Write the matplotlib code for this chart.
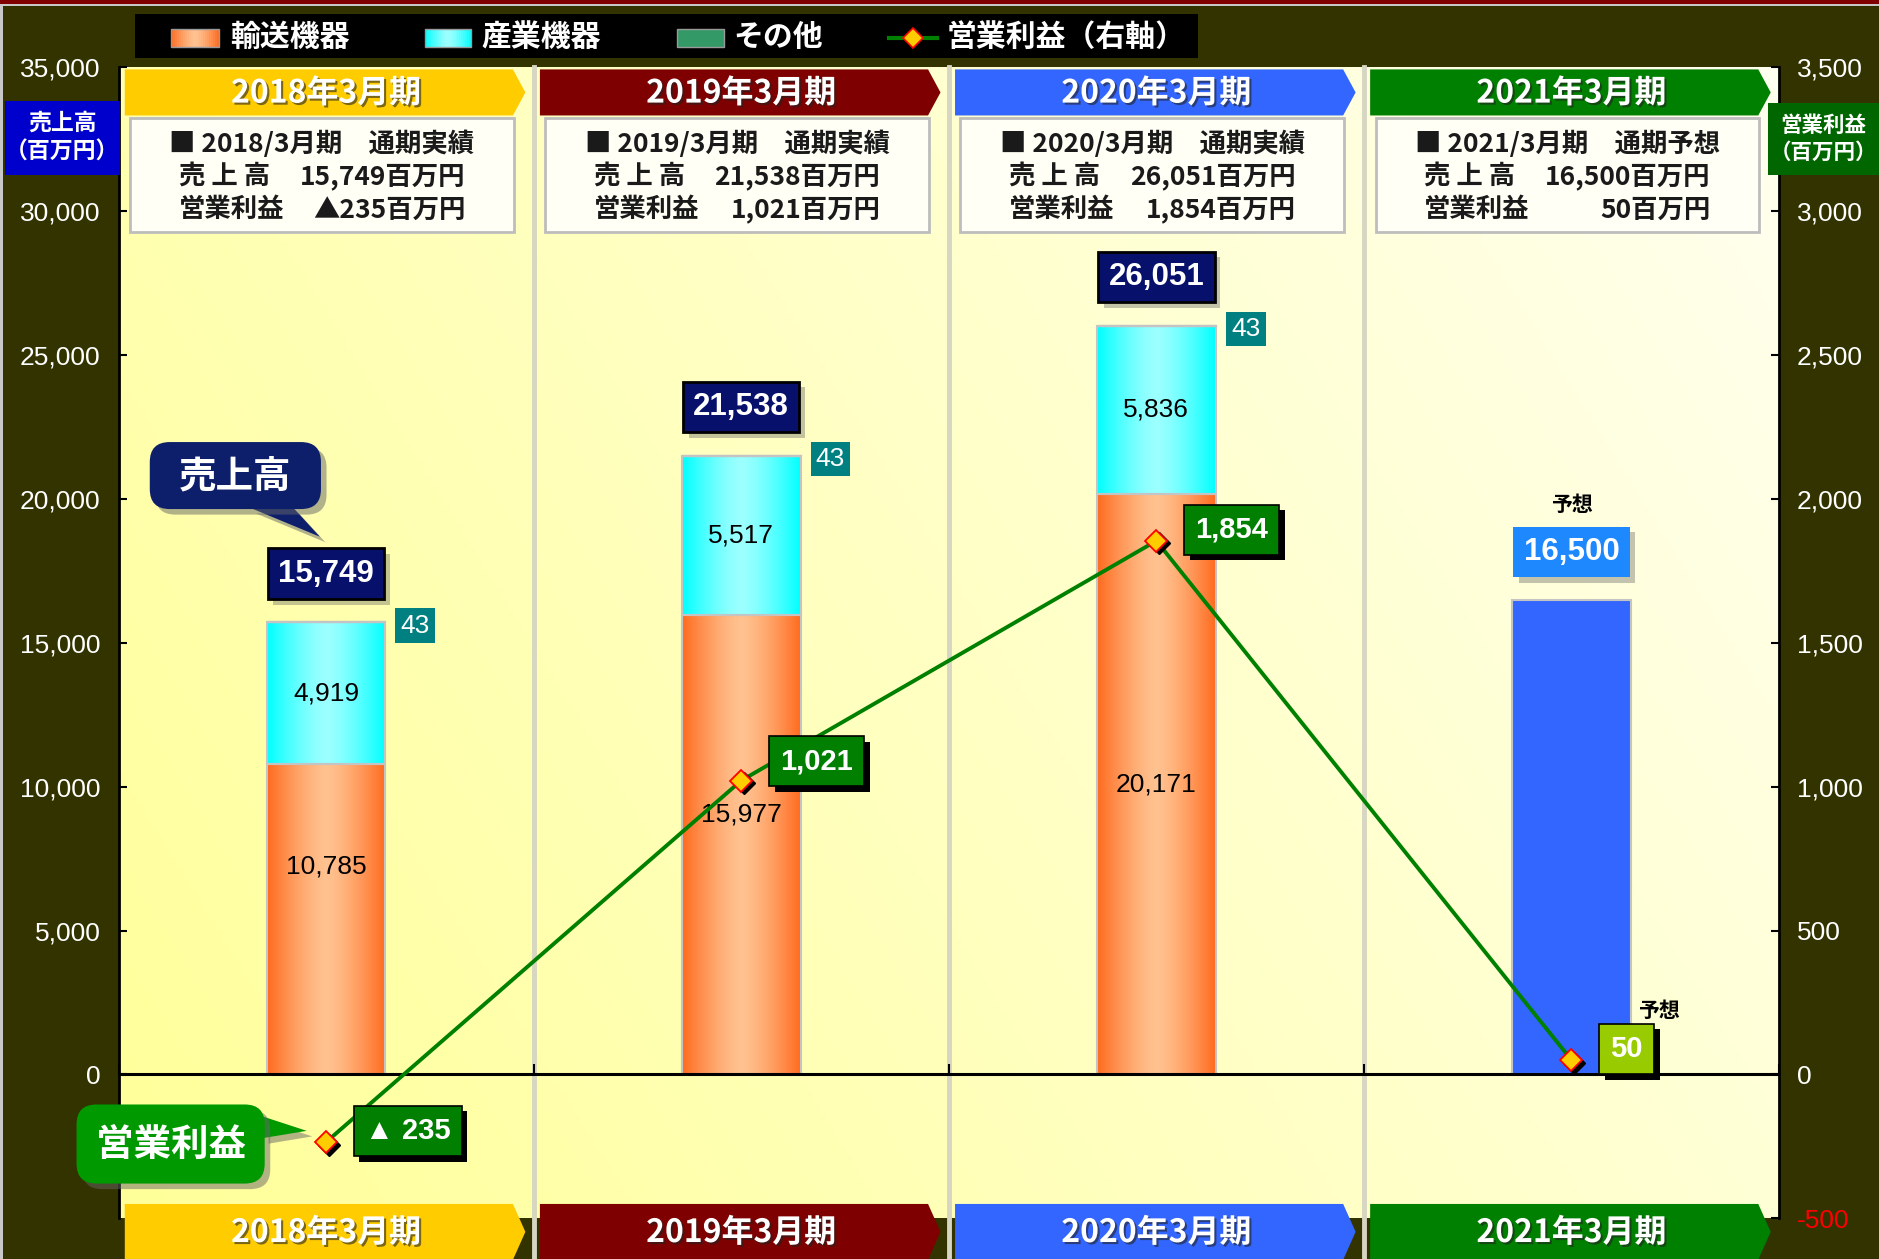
# 売上高・営業利益の推移（4期）
import numpy as np
import matplotlib
matplotlib.use('Agg')
import matplotlib.pyplot as plt
import matplotlib.patheffects as pe
from matplotlib import transforms
from matplotlib.colors import to_rgb
from matplotlib.lines import Line2D
from matplotlib.patches import Rectangle, Polygon, FancyBboxPatch

plt.rcParams['font.family'] = ['Liberation Sans', 'Noto Sans CJK JP', 'DejaVu Sans']
JP = ['Noto Sans CJK JP', 'DejaVu Sans']

# ---- data (百万円) ----
periods = ['2018年3月期', '2019年3月期', '2020年3月期', '2021年3月期']
period_short = ['2018/3月期', '2019/3月期', '2020/3月期', '2021/3月期']
kinds = ['通期実績', '通期実績', '通期実績', '通期予想']
transport = [10785, 15977, 20171]      # 輸送機器
industrial = [4919, 5517, 5836]        # 産業機器
others = [43, 43, 43]                  # その他
sales_total = [15749, 21538, 26051, 16500]
op_profit = [-235, 1021, 1854, 50]     # 営業利益（右軸）

# ---- style ----
banner_colors = ['#FFCC00', '#7F0000', '#3366FF', '#008000']
ORANGE_EDGE, ORANGE_MID = to_rgb('#FF6A1E'), to_rgb('#FFC290')
CYAN_EDGE, CYAN_MID = to_rgb('#00FFFF'), to_rgb('#9CFFFF')
transport_label_y = [7240, 9030, 10090]
profit_label_dy = [8, 14, 8, 8]
shadow_txt = [pe.SimplePatchShadow(offset=(1.5, -1.5), shadow_rgbFace='#222222', alpha=0.6), pe.Normal()]

fig = plt.figure(figsize=(18.79, 12.59), dpi=100, facecolor='#333300')
ax = fig.add_axes([0.0631, 0.0323, 0.8837, 0.9144])
ax2 = ax.twinx()
blend = transforms.blended_transform_factory(ax.transData, ax.transAxes)

x = np.arange(len(periods))
W = 0.286

# plot area background
gx, gy = np.meshgrid(np.linspace(0, 1, 256), np.linspace(0, 1, 256))
t = np.clip(0.7 * gx + 0.3 * gy, 0, 1)
lo, hi = np.array([1.0, 1.0, 0.60]), np.array([1.0, 1.0, 0.94])
ax.imshow(lo + (hi - lo) * t[..., None], extent=[0, 1, 0, 1], transform=ax.transAxes,
          origin='lower', aspect='auto', zorder=0)

for b in x[:-1] + 0.5:
    ax.add_line(Line2D([b, b], [-0.04, 1], transform=blend, color='#D6D6C2', lw=3.5,
                       zorder=1, clip_on=False))


def shade(patch, edge, mid):
    bb = patch.get_bbox()
    tt = np.abs(np.linspace(-1, 1, 120)) ** 1.4
    row = np.array(mid) + (np.array(edge) - np.array(mid)) * tt[:, None]
    im = ax.imshow(row[None], extent=[bb.x0, bb.x1, bb.y0, bb.y1], aspect='auto',
                   zorder=2.9, interpolation='bilinear')
    im.set_clip_path(patch)


b1 = ax.bar(x[:3], transport, W, color='none', edgecolor='#C4C4C4', lw=1.5, zorder=3)
b2 = ax.bar(x[:3], industrial, W, bottom=transport, color='none', edgecolor='#C4C4C4', lw=1.5, zorder=3)
ax.bar(x[:3], others, W, bottom=np.add(transport, industrial), color='#339966',
       edgecolor='#C4C4C4', lw=1.0, zorder=3)
ax.bar(x[3], sales_total[3], W, color='#3366FF', edgecolor='#C4C4C4', lw=1.5, zorder=3)
for p in b1:
    shade(p, ORANGE_EDGE, ORANGE_MID)
for p in b2:
    shade(p, CYAN_EDGE, CYAN_MID)

# segment labels
for i in range(3):
    ax.text(x[i], transport_label_y[i], f'{transport[i]:,}', ha='center', va='center',
            fontsize=19, color='black', zorder=4)
    ax.text(x[i], transport[i] + industrial[i] / 2, f'{industrial[i]:,}', ha='center',
            va='center', fontsize=19, color='black', zorder=4)
    top = transport[i] + industrial[i] + others[i]
    ax.text(x[i] + 0.215, top - 150, f'{others[i]}', ha='center', va='center', fontsize=19,
            color='white', zorder=5,
            bbox=dict(boxstyle='square,pad=0.2', fc='#008080', ec='none'))

# total labels
for i, v in enumerate(sales_total):
    fc = '#1E88FF' if kinds[i] == '通期予想' else '#07106A'
    ec = 'none' if kinds[i] == '通期予想' else 'black'
    tx = ax.text(x[i], v + 1650, f'{v:,}', ha='center', va='center', fontsize=22.5,
                 weight='bold', color='white', zorder=6,
                 bbox=dict(boxstyle='square,pad=0.33', fc=fc, ec=ec, lw=2))
    tx.get_bbox_patch().set_path_effects(
        [pe.SimplePatchShadow(offset=(4, -4), shadow_rgbFace='#555555', alpha=0.35), pe.Normal()])
ax.text(x[3], sales_total[3] + 3300, '予想', ha='center', va='center', fontsize=15,
        weight='bold', color='black', family=JP, zorder=6)

# operating profit line
sh = transforms.offset_copy(ax2.transData, fig=fig, x=2.5, y=-2.5, units='dots')
ax2.plot(x, op_profit, color='#008000', lw=2.8, zorder=4)
ax2.plot(x, op_profit, 'D', ms=11, color='black', transform=sh, zorder=4.5)
ax2.plot(x, op_profit, 'D', ms=11, mfc='#FFCC00', mec='red', mew=1.3, zorder=5)
for i, v in enumerate(op_profit):
    s = f'▲ {abs(v):,}' if v < 0 else f'{v:,}'
    fc = '#99CC00' if kinds[i] == '通期予想' else '#007F00'
    tx = ax2.annotate(s, (x[i], v), xytext=(28, profit_label_dy[i]), textcoords='offset points',
                      ha='left', va='center', fontsize=21, weight='bold', color='white', zorder=6,
                      bbox=dict(boxstyle='square,pad=0.38', fc=fc, ec='black', lw=1.2))
    tx.get_bbox_patch().set_path_effects(
        [pe.SimplePatchShadow(offset=(4, -4), shadow_rgbFace='black', alpha=1.0), pe.Normal()])
ax2.annotate('予想', (x[3], op_profit[3]), xytext=(63, 36), textcoords='offset points',
             ha='center', va='center', fontsize=15, weight='bold', color='black', family=JP)

# banners (top & bottom) and info boxes
for i, c in enumerate(x):
    for y0, y1 in [(0.958, 0.998), (-0.036, 0.0125)]:
        xl, tip = c - 0.485, c + 0.48
        xr = tip - 0.03
        ym = (y0 + y1) / 2
        ax.add_patch(Polygon([(xl, y0), (xr, y0), (tip, ym), (xr, y1), (xl, y1)], closed=True,
                             transform=blend, fc=banner_colors[i], ec='none', zorder=6,
                             clip_on=False))
        ax.text(c, ym - 0.001, periods[i], transform=blend, ha='center', va='center', fontsize=23,
                weight='bold', color='white', family=JP, zorder=7, path_effects=shadow_txt)

    bc = c - 0.01
    ax.add_patch(Rectangle((bc - 0.462, 0.857), 0.924, 0.099, transform=blend, fc='#FFFFF6',
                           ec='#BDBDBD', lw=2, zorder=6))
    ax.text(bc, 0.933, f'■ {period_short[i]}　{kinds[i]}', transform=blend, ha='center',
            va='center', fontsize=19, weight='bold', color='#1A1A1A', family=JP, zorder=7)
    ax.text(bc - 0.345, 0.905, '売 上 高', transform=blend, ha='left', va='center',
            fontsize=19, weight='bold', color='#1A1A1A', family=JP, zorder=7)
    ax.text(bc + 0.345, 0.905, f'{sales_total[i]:,}百万円', transform=blend, ha='right',
            va='center', fontsize=19, weight='bold', color='#1A1A1A', family=JP, zorder=7)
    v = op_profit[i]
    ax.text(bc - 0.345, 0.876, '営業利益', transform=blend, ha='left', va='center',
            fontsize=19, weight='bold', color='#1A1A1A', family=JP, zorder=7)
    ax.text(bc + 0.345, 0.876, (f'▲{abs(v):,}' if v < 0 else f'{v:,}') + '百万円',
            transform=blend, ha='right', va='center', fontsize=19, weight='bold',
            color='#1A1A1A', family=JP, zorder=7)

# callouts
ASP = 1386 / 961
callout_shadow = [pe.SimplePatchShadow(offset=(4, -4), shadow_rgbFace='#666666', alpha=0.5), pe.Normal()]


def callout(x0, y0, w, h, tail, color, label):
    ax.add_patch(Polygon(tail, closed=True, transform=ax.transAxes, fc=color, ec='none',
                         zorder=7, clip_on=False, path_effects=callout_shadow))
    ax.add_patch(FancyBboxPatch((x0, y0), w, h, boxstyle='round,pad=0,rounding_size=0.012',
                                mutation_aspect=ASP, transform=ax.transAxes, fc=color, ec='none',
                                zorder=7.1, clip_on=False, path_effects=callout_shadow))
    ax.text(x0 + w / 2, y0 + h / 2, label, transform=ax.transAxes, ha='center', va='center',
            fontsize=27, weight='bold', color='white', family=JP, zorder=7.2)


callout(0.0188, 0.6161, 0.1031, 0.0582,
        [(0.0794, 0.6171), (0.1053, 0.6171), (0.1212, 0.5921)], '#0D1F6B', '売上高')
callout(-0.0253, 0.0302, 0.1133, 0.0687,
        [(0.0870, 0.0884), (0.1133, 0.0760), (0.0870, 0.0697)], '#009900', '営業利益')

# axes
ax.set_xlim(-0.5, 3.5)
ax.set_ylim(-5000, 35000)
ax2.set_ylim(-500, 3500)
ax.set_xticks(np.arange(-0.5, 3.6, 1.0))
ax.set_xticklabels([])
ax.spines['bottom'].set_position(('data', 0))
ax.spines['bottom'].set_linewidth(2.2)
ax.spines['bottom'].set_zorder(5)
ax.tick_params(axis='x', direction='in', length=7, width=1.5, color='black')
ax.set_yticks(np.arange(0, 35001, 5000))
ax.set_yticklabels([f'{v:,}' for v in range(0, 35001, 5000)])
ax.tick_params(axis='y', direction='in', length=6, width=1.5, color='black',
               labelcolor='white', labelsize=19, pad=13)
ax2.set_yticks(np.arange(-500, 3501, 500))
ax2.set_yticklabels([f'{v:,}' if v >= 0 else f'{v}' for v in range(-500, 3501, 500)])
ax2.tick_params(axis='y', direction='in', length=6, width=1.5, color='black',
                labelcolor='white', labelsize=19, pad=13)
ax2.get_yticklabels()[0].set_color('red')
for a in (ax, ax2):
    a.spines['top'].set_visible(False)
ax.spines['left'].set_linewidth(2)
ax.spines['right'].set_visible(False)
ax2.spines['right'].set_linewidth(2)
ax2.spines['left'].set_visible(False)
ax2.spines['bottom'].set_visible(False)

# axis title boxes
fig.patches.append(Rectangle((0.0026, 0.8611), 0.0612, 0.059, transform=fig.transFigure,
                             fc='#0000CC', ec='none'))
fig.text(0.0332, 0.8906, '売上高\n（百万円）', ha='center', va='center', fontsize=16.5,
         weight='bold', color='white', family=JP, linespacing=1.3)
fig.patches.append(Rectangle((0.941, 0.8611), 0.059, 0.0571, transform=fig.transFigure,
                             fc='#006600', ec='none'))
fig.text(0.9705, 0.8897, '営業利益\n（百万円）', ha='center', va='center', fontsize=15.5,
         weight='bold', color='white', family=JP, linespacing=1.3)

# legend
fig.patches.append(Rectangle((0.0721, 0.9543), 0.5656, 0.0343, transform=fig.transFigure,
                             fc='black', ec='none'))


def fig_grad(x0, y0, w, h, edge, mid, n=24):
    for k in range(n):
        tt = abs((k + 0.5) / n * 2 - 1) ** 1.4
        col = np.array(mid) + (np.array(edge) - np.array(mid)) * tt
        fig.patches.append(Rectangle((x0 + w * k / n, y0), w / n, h, transform=fig.transFigure,
                                     fc=col, ec='none'))
    fig.patches.append(Rectangle((x0, y0), w, h, transform=fig.transFigure, fc='none',
                                 ec='#9A9A9A', lw=1))


fig_grad(0.0912, 0.9629, 0.0255, 0.0142, ORANGE_EDGE, ORANGE_MID)
fig_grad(0.2264, 0.9629, 0.0241, 0.0142, CYAN_EDGE, CYAN_MID)
fig.patches.append(Rectangle((0.3602, 0.9629), 0.0249, 0.0142, transform=fig.transFigure,
                             fc='#339966', ec='#9A9A9A', lw=1))
fig.lines.append(Line2D([0.4731, 0.4986], [0.9700, 0.9700], transform=fig.transFigure,
                        color='#008000', lw=3))
fig.lines.append(Line2D([0.4858], [0.9700], transform=fig.transFigure, marker='D', ms=10,
                        mfc='#FFCC00', mec='red', mew=1.2))
for tx_, lab in [(0.1224, '輸送機器'), (0.2563, '産業機器'), (0.3902, 'その他'), (0.5037, '営業利益（右軸）')]:
    fig.text(tx_, 0.9706, lab, ha='left', va='center', fontsize=21.5, weight='bold',
             color='white', family=JP)

# frame lines
fig.patches.append(Rectangle((0, 0.9968), 1, 0.0032, transform=fig.transFigure, fc='#800000', ec='none'))
fig.patches.append(Rectangle((0, 0.9950), 1, 0.0018, transform=fig.transFigure, fc='#C8C8C8', ec='none'))
fig.patches.append(Rectangle((0, 0), 0.0016, 0.995, transform=fig.transFigure, fc='#C8C8C8', ec='none'))

fig.savefig('out.png', dpi=100, facecolor=fig.get_facecolor())
